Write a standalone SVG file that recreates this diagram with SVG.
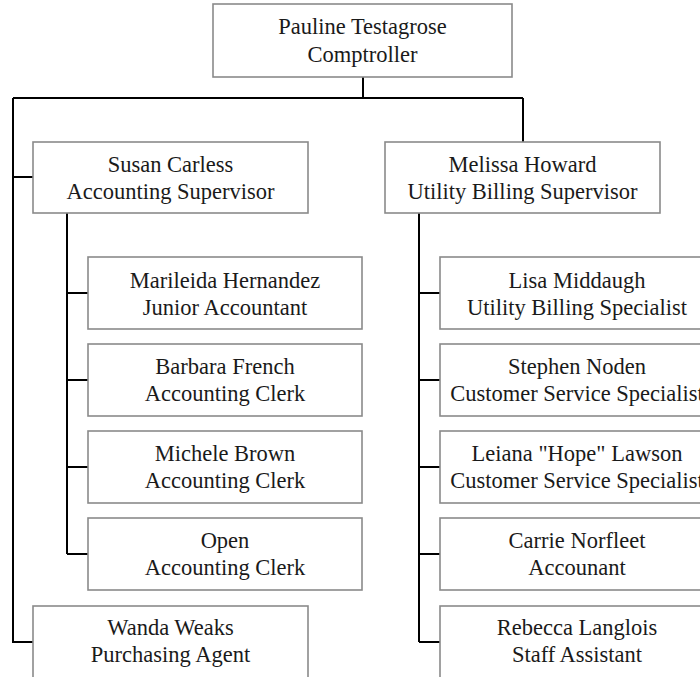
<svg xmlns="http://www.w3.org/2000/svg" width="700" height="677" viewBox="0 0 700 677">
<style>
.box{fill:#fff;stroke:#8a8a8a;stroke-width:1.6}
.t{font-family:"Liberation Serif","Times New Roman",serif;font-size:22.5px;fill:#1a1a1a;text-anchor:middle}
.c{fill:none;stroke:#000;stroke-width:2}
</style>
<rect width="700" height="677" fill="#fff"/>
<g id="connectors">
<path class="c" d="M363,77V98M13,98H523M523,98V142M13,98V642H33M13,177H33"/>
<path class="c" d="M67,213V554M67,293H88M67,380H88M67,467H88M67,554H88"/>
<path class="c" d="M419,213V642M419,293H440M419,380H440M419,467H440M419,554H440M419,642H440"/>
</g>
<g id="pauline"><rect class="box" x="213" y="4" width="299" height="73"/><text class="t" x="362.5" y="34">Pauline Testagrose</text><text class="t" x="362.5" y="62">Comptroller</text></g>
<g id="susan"><rect class="box" x="33" y="142" width="275" height="71"/><text class="t" x="170.5" y="172">Susan Carless</text><text class="t" x="170.5" y="199">Accounting Supervisor</text></g>
<g id="melissa"><rect class="box" x="385" y="142" width="275" height="71"/><text class="t" x="522.5" y="172">Melissa Howard</text><text class="t" x="522.5" y="199">Utility Billing Supervisor</text></g>
<g id="marileida"><rect class="box" x="88" y="257" width="274" height="72"/><text class="t" x="225" y="288">Marileida Hernandez</text><text class="t" x="225" y="315">Junior Accountant</text></g>
<g id="barbara"><rect class="box" x="88" y="344" width="274" height="72"/><text class="t" x="225" y="374">Barbara French</text><text class="t" x="225" y="401">Accounting Clerk</text></g>
<g id="michele"><rect class="box" x="88" y="431" width="274" height="72"/><text class="t" x="225" y="461">Michele Brown</text><text class="t" x="225" y="488">Accounting Clerk</text></g>
<g id="open"><rect class="box" x="88" y="518" width="274" height="72"/><text class="t" x="225" y="548">Open</text><text class="t" x="225" y="575">Accounting Clerk</text></g>
<g id="wanda"><rect class="box" x="33" y="606" width="275" height="80"/><text class="t" x="170.5" y="635">Wanda Weaks</text><text class="t" x="170.5" y="662">Purchasing Agent</text></g>
<g id="lisa"><rect class="box" x="440" y="257" width="274" height="72"/><text class="t" x="577" y="288">Lisa Middaugh</text><text class="t" x="577" y="315">Utility Billing Specialist</text></g>
<g id="stephen"><rect class="box" x="440" y="344" width="274" height="72"/><text class="t" x="577" y="374">Stephen Noden</text><text class="t" x="577" y="401">Customer Service Specialist</text></g>
<g id="leiana"><rect class="box" x="440" y="431" width="274" height="72"/><text class="t" x="577" y="461">Leiana "Hope" Lawson</text><text class="t" x="577" y="488">Customer Service Specialist</text></g>
<g id="carrie"><rect class="box" x="440" y="518" width="274" height="72"/><text class="t" x="577" y="548">Carrie Norfleet</text><text class="t" x="577" y="575">Accounant</text></g>
<g id="rebecca"><rect class="box" x="440" y="606" width="274" height="80"/><text class="t" x="577" y="635">Rebecca Langlois</text><text class="t" x="577" y="662">Staff Assistant</text></g>
</svg>
